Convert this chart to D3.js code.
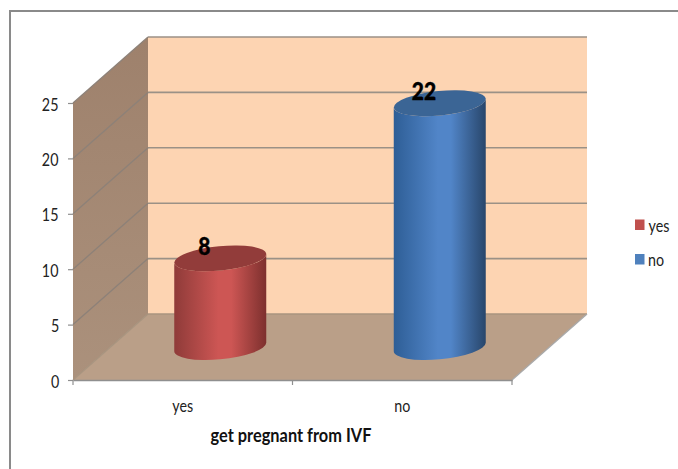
<!DOCTYPE html>
<html>
<head>
<meta charset="utf-8">
<script src="https://cdn.jsdelivr.net/npm/d3@7/dist/d3.min.js"></script>
<style>
html,body{margin:0;padding:0;background:#fff;overflow:hidden}
svg{display:block}
text{font-family:Lato,"Open Sans",sans-serif;fill:#222}
/* Narrower, taller lettering for every chart label */
text.narrow{transform-box:fill-box;transform-origin:center;transform:scaleX(0.84)}
</style>
</head>
<body>
<svg id="chart" width="678" height="469"></svg>
<script>
// Survey counts
const categories = ["yes", "no"];
const counts = [8, 22];
const yTicks = [0, 5, 10, 15, 20, 25];
const axisTitle = "get pregnant from IVF";
const barColors = {
  yes: {mid: "#cd5654", left: "#8f3b39", right: "#7d302e", top: "#923c3a"},
  no:  {mid: "#5185c8", left: "#2e5e96", right: "#28466b", top: "#3b6595"}
};

// Plot frame: front edge of the floor plus the depth offset of the back wall
const frontLeft = 73, frontRight = 512, floorY = 380, topY = 103;
const depth = {x: 75, y: -66};
const lineGrey = "#8f8f8f";

const svg = d3.select("#chart");
const y = d3.scaleLinear().domain([0, 25]).range([floorY, topY]);
const x = d3.scaleBand().domain(categories).range([frontLeft, frontRight]);
const poly = pts => pts.map(p => p.join(",")).join(" ");

const defs = svg.append("defs");

// Chart-area border, open past the right and bottom of the page
svg.append("rect").attr("x", 10).attr("y", 11).attr("width", 720).attr("height", 520)
  .attr("fill", "#fff").attr("stroke", "#8a8a8a").attr("stroke-width", 2);

// Walls and floor
const wallGrad = defs.append("linearGradient").attr("id", "sideWall")
  .attr("x1", 0).attr("y1", 0).attr("x2", 0).attr("y2", 1);
wallGrad.append("stop").attr("offset", 0).attr("stop-color", "#9e816c");
wallGrad.append("stop").attr("offset", 1).attr("stop-color", "#ab917c");

const backX0 = frontLeft + depth.x, backX1 = frontRight + depth.x;
svg.append("polygon")
  .attr("points", poly([[backX0, y(25) + depth.y], [backX1, y(25) + depth.y], [backX1, y(0) + depth.y], [backX0, y(0) + depth.y]]))
  .attr("fill", "#fdd4b2");
svg.append("polygon")
  .attr("points", poly([[frontLeft, y(25)], [backX0, y(25) + depth.y], [backX0, y(0) + depth.y], [frontLeft, y(0)]]))
  .attr("fill", "url(#sideWall)");
svg.append("polygon")
  .attr("points", poly([[frontLeft, y(0)], [frontRight, y(0)], [backX1, y(0) + depth.y], [backX0, y(0) + depth.y]]))
  .attr("fill", "#ba9f88");

// Gridlines along the side wall and across the back wall
const grid = svg.append("g");
yTicks.forEach(t => {
  grid.append("line")
    .attr("x1", frontLeft).attr("y1", y(t)).attr("x2", backX0).attr("y2", y(t) + depth.y)
    .attr("stroke", t === 0 ? "#a8947f" : "#8d8178").attr("stroke-width", 1.3);
  grid.append("line")
    .attr("x1", backX0).attr("y1", y(t) + depth.y).attr("x2", backX1).attr("y2", y(t) + depth.y)
    .attr("stroke", t === 0 ? "#a8947f" : "#9b9186").attr("stroke-width", 1.6);
});
svg.append("line")
  .attr("x1", frontRight).attr("y1", y(0)).attr("x2", backX1).attr("y2", y(0) + depth.y)
  .attr("stroke", "#a9a9a9").attr("stroke-width", 1.3);

// Cylinders: tilted elliptical caps, shaded sides
const capA = 46.2, capB = 12.2, capTilt = -5.6;
const halfW = 46, sideDy = 4.2;
const base = y(0) + depth.y / 2;

categories.forEach((c, i) => {
  const cx = x(c) + x.bandwidth() / 2 + depth.x / 2;
  const h = y(0) - y(counts[i]);
  const topC = base - h;
  const col = barColors[c];

  const g = defs.append("linearGradient").attr("id", "side-" + c)
    .attr("gradientUnits", "userSpaceOnUse")
    .attr("x1", cx - halfW).attr("x2", cx + halfW).attr("y1", 0).attr("y2", 0);
  g.append("stop").attr("offset", 0).attr("stop-color", col.left);
  g.append("stop").attr("offset", 0.48).attr("stop-color", col.mid);
  g.append("stop").attr("offset", 0.62).attr("stop-color", col.mid);
  g.append("stop").attr("offset", 1).attr("stop-color", col.right);

  const arc = (ex, ey, sweep) => `A${capA},${capB} ${capTilt} 0 ${sweep} ${ex},${ey}`;
  const d = `M${cx - halfW},${topC + sideDy} L${cx - halfW},${base + sideDy} `
    + arc(cx + halfW, base - sideDy, 0)
    + ` L${cx + halfW},${topC - sideDy} ` + arc(cx - halfW, topC + sideDy, 1) + "Z";
  svg.append("path").attr("d", d).attr("fill", `url(#side-${c})`);
  svg.append("ellipse")
    .attr("rx", capA).attr("ry", capB)
    .attr("transform", `translate(${cx},${topC}) rotate(${capTilt})`)
    .attr("fill", col.top);
  svg.append("text")
    .attr("class", "narrow")
    .attr("x", cx - 15.8).attr("y", topC - 3.2)
    .attr("text-anchor", "middle")
    .attr("font-size", 25).attr("font-weight", 900)
    .style("fill", "#000")
    .style("stroke", "#000").style("stroke-width", 0.4)
    .text(counts[i]);
});

// Value axis
const yAxis = d3.axisLeft(y).tickValues(yTicks).tickSize(5).tickPadding(8).tickFormat(d3.format("d"));
const yG = svg.append("g").attr("transform", `translate(${frontLeft},0)`).call(yAxis);
yG.select(".domain").remove();
yG.selectAll("line").attr("stroke", lineGrey).attr("stroke-width", 1.2);
yG.selectAll("text").attr("class", "narrow").attr("font-size", 17).attr("dy", "0.42em")
  .attr("font-family", "Lato").style("fill", "#222");

// Category axis: the ticks fall between the categories
const xAxis = d3.axisBottom(x).tickSize(0).tickPadding(20);
const xG = svg.append("g").attr("transform", `translate(0,${floorY})`).call(xAxis);
xG.select(".domain").attr("stroke", lineGrey).attr("stroke-width", 1.4);
xG.selectAll("text").attr("class", "narrow").attr("font-size", 17)
  .attr("font-family", "Lato").style("fill", "#222");
const edges = [...categories.map(c => x(c)), frontRight];
svg.append("g").selectAll("line").data(edges).join("line")
  .attr("x1", d => d).attr("x2", d => d)
  .attr("y1", floorY).attr("y2", floorY + 5)
  .attr("stroke", lineGrey).attr("stroke-width", 1.2);

// Axis title
svg.append("text")
  .attr("class", "narrow")
  .attr("x", 291).attr("y", 442)
  .attr("text-anchor", "middle")
  .attr("font-size", 19.5).attr("font-weight", 700)
  .style("fill", "#111")
  .text(axisTitle);

// Legend
const legend = svg.append("g").selectAll("g").data(categories).join("g")
  .attr("transform", (c, i) => `translate(635,${219.5 + i * 34.5})`);
legend.append("rect").attr("width", 9.5).attr("height", 10.5)
  .attr("fill", c => c === "yes" ? "#c0504d" : "#4f81bd");
legend.append("text").attr("class", "narrow").attr("x", 11.5).attr("y", 12)
  .attr("font-size", 17).style("fill", "#222").text(c => c);
</script>
</body>
</html>
